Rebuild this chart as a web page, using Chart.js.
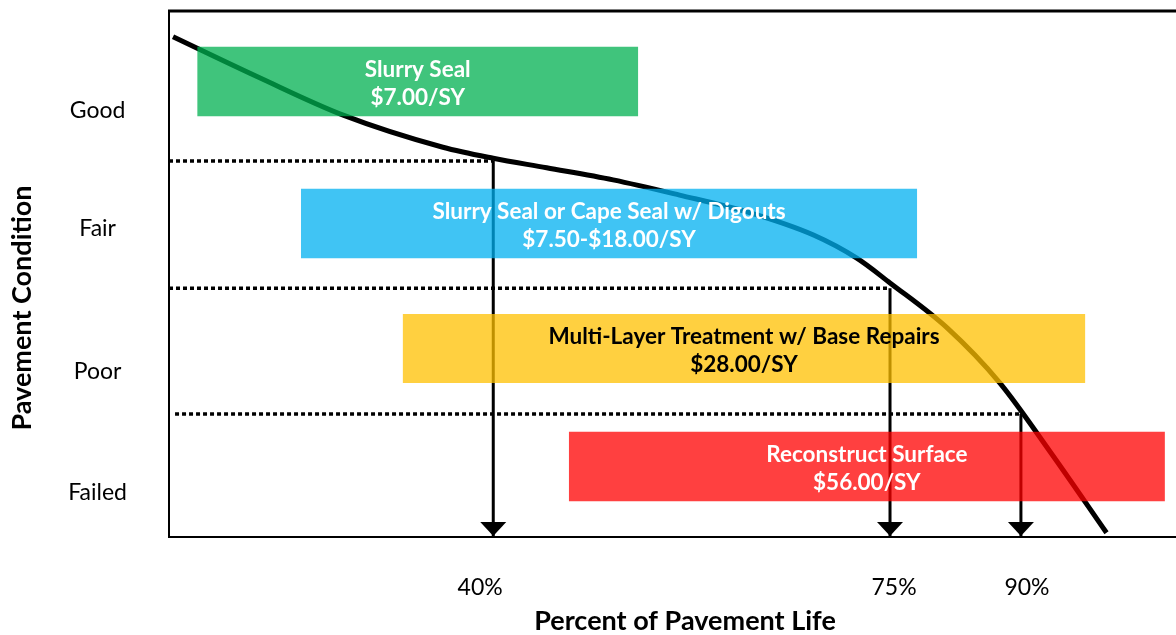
<!DOCTYPE html>
<html>
<head>
<meta charset="utf-8">
<title>Pavement Condition</title>
<script src="https://cdn.jsdelivr.net/npm/chart.js@4/dist/chart.umd.min.js"></script>
<style>
  html, body { margin: 0; padding: 0; background: #ffffff; }
  #wrap { width: 1176px; height: 635px; }
</style>
</head>
<body>
<div id="wrap"><canvas id="lifeChart" width="1176" height="635"></canvas></div>
<script>
// 軸の位置は 0-100 の相対値
var curveX = [0.4, 9.0, 17.3, 27.2, 32.2, 37.5, 44.1, 50.7, 57.4, 64.0, 68.3, 71.6, 77.3, 82.5, 87.5, 93.1];
var curveY = [95.1, 87.3, 80.2, 74.1, 72.0, 70.2, 67.9, 65.0, 61.8, 57.4, 53.0, 48.3, 39.7, 29.3, 16.2, 0.8];

var conditionLabels = ['Good', 'Fair', 'Poor', 'Failed'];
var conditionPos = [81.0, 58.6, 31.4, 8.4];

var lifeLabels = ['40%', '75%', '90%'];
var lifePos = [30.9, 72.0, 85.2];

// 点線（境界）と下向き矢印
var breakStartX = [0, 0, 0.6];
var breakX = [32.2, 71.6, 84.6];
var breakY = [71.5, 47.3, 23.4];

// 補修工法のボックス
var treatName = ['Slurry Seal', 'Slurry Seal or Cape Seal w/ Digouts', 'Multi-Layer Treatment w/ Base Repairs', 'Reconstruct Surface'];
var treatCost = ['$7.00/SY', '$7.50-$18.00/SY', '$28.00/SY', '$56.00/SY'];
var treatX0 = [2.8, 13.1, 23.2, 39.7];
var treatX1 = [46.6, 74.3, 91.0, 98.9];
var treatTop = [93.2, 66.2, 42.4, 20.0];
var treatBottom = [80.0, 53.0, 29.3, 6.8];
var treatColor = ['rgba(0,176,80,0.75)', 'rgba(0,176,240,0.75)', 'rgba(255,192,0,0.75)', 'rgba(255,0,0,0.75)'];
var treatTextColor = ['#ffffff', '#ffffff', '#000000', '#ffffff'];

var FONT = 'Lato, "Open Sans", sans-serif';

function buildDatasets() {
    var sets = [];
    var pts = [];
    for (var i = 0; i < curveX.length; i++) {
        pts.push({ x: curveX[i], y: curveY[i] });
    }
    sets.push({ data: pts, borderColor: '#000000', borderWidth: 5, pointRadius: 0, cubicInterpolationMode: 'monotone', fill: false, order: 2 });

    for (var j = 0; j < breakX.length; j++) {
        // 点線
        sets.push({
            data: [{ x: breakStartX[j], y: breakY[j] }, { x: breakX[j], y: breakY[j] }],
            borderColor: '#000000', borderWidth: 3.5, borderDash: [4, 3], pointRadius: 0, fill: false, order: 3
        });
        // 矢印の軸
        sets.push({
            data: [{ x: breakX[j], y: breakY[j] }, { x: breakX[j], y: 0 }],
            borderColor: '#000000', borderWidth: 3, pointRadius: 0, fill: false, order: 3
        });
    }

    for (var k = 0; k < treatName.length; k++) {
        sets.push({
            data: [{ x: treatX0[k], y: treatTop[k] }, { x: treatX1[k], y: treatTop[k] }],
            borderWidth: 0, borderColor: 'rgba(0,0,0,0)', pointRadius: 0,
            backgroundColor: treatColor[k], fill: { value: treatBottom[k] }, order: 0
        });
    }
    return sets;
}

// 矢印の先端・ボックスの文字・外枠・軸タイトル
var decorPlugin = {
    id: 'decor',
    afterDatasetsDraw: function(chart) {
        var ctx = chart.ctx;
        var xs = chart.scales.x;
        var ys = chart.scales.y;
        var area = chart.chartArea;
        ctx.save();

        ctx.fillStyle = '#000000';
        var base = ys.getPixelForValue(0);
        for (var i = 0; i < breakX.length; i++) {
            var px = xs.getPixelForValue(breakX[i]);
            ctx.beginPath();
            ctx.moveTo(px - 13, base - 15);
            ctx.lineTo(px + 13, base - 15);
            ctx.lineTo(px, base - 1);
            ctx.closePath();
            ctx.fill();
        }

        ctx.textAlign = 'center';
        ctx.textBaseline = 'middle';
        ctx.font = 'bold 22.5px ' + FONT;
        for (var k = 0; k < treatName.length; k++) {
            var cx = (xs.getPixelForValue(treatX0[k]) + xs.getPixelForValue(treatX1[k])) / 2;
            var cy = (ys.getPixelForValue(treatTop[k]) + ys.getPixelForValue(treatBottom[k])) / 2;
            ctx.fillStyle = treatTextColor[k];
            ctx.fillText(treatName[k], cx, cy - 12);
            ctx.fillText(treatCost[k], cx, cy + 16);
        }

        // 上側の枠線
        ctx.strokeStyle = '#000000';
        ctx.lineWidth = 3;
        ctx.beginPath();
        ctx.moveTo(area.left - 1, area.top);
        ctx.lineTo(area.right, area.top);
        ctx.stroke();

        ctx.fillStyle = '#000000';
        ctx.font = 'bold 27px ' + FONT;
        ctx.fillText('Percent of Pavement Life', area.left + 516, area.bottom + 84);
        ctx.translate(22, area.top + 297);
        ctx.rotate(-Math.PI / 2);
        ctx.fillText('Pavement Condition', 0, 0);
        ctx.restore();
    }
};

var ctx = document.getElementById('lifeChart').getContext('2d');
new Chart(ctx, {
    type: 'line',
    data: { datasets: buildDatasets() },
    plugins: [decorPlugin],
    options: {
        responsive: false,
        animation: false,
        layout: { padding: { top: 11, right: 0, left: 0, bottom: 0 } },
        plugins: { legend: { display: false }, tooltip: { enabled: false } },
        scales: {
            x: {
                type: 'linear', min: 0, max: 100,
                grid: { display: false, drawTicks: false },
                border: { display: true, color: '#000000', width: 2 },
                afterFit: function(scale) {
                    scale.height = 98;
                    scale.paddingLeft = 0;
                    scale.paddingRight = 0;
                },
                afterBuildTicks: function(scale) {
                    scale.ticks = lifePos.map(function(v) { return { value: v }; });
                },
                ticks: {
                    autoSkip: false, maxRotation: 0, padding: 37,
                    color: '#000000', font: { family: FONT, size: 23 },
                    callback: function(value, index) { return lifeLabels[index]; }
                }
            },
            y: {
                type: 'linear', min: 0, max: 100,
                grid: { display: false, drawTicks: false },
                border: { display: true, color: '#000000', width: 2 },
                afterFit: function(scale) {
                    scale.width = 169;
                    scale.paddingTop = 0;
                    scale.paddingBottom = 0;
                },
                afterBuildTicks: function(scale) {
                    scale.ticks = conditionPos.map(function(v) { return { value: v }; });
                },
                ticks: {
                    autoSkip: false, crossAlign: 'center', padding: 42,
                    color: '#000000', font: { family: FONT, size: 23 },
                    callback: function(value, index) { return conditionLabels[index]; }
                }
            }
        }
    }
});
</script>
</body>
</html>
